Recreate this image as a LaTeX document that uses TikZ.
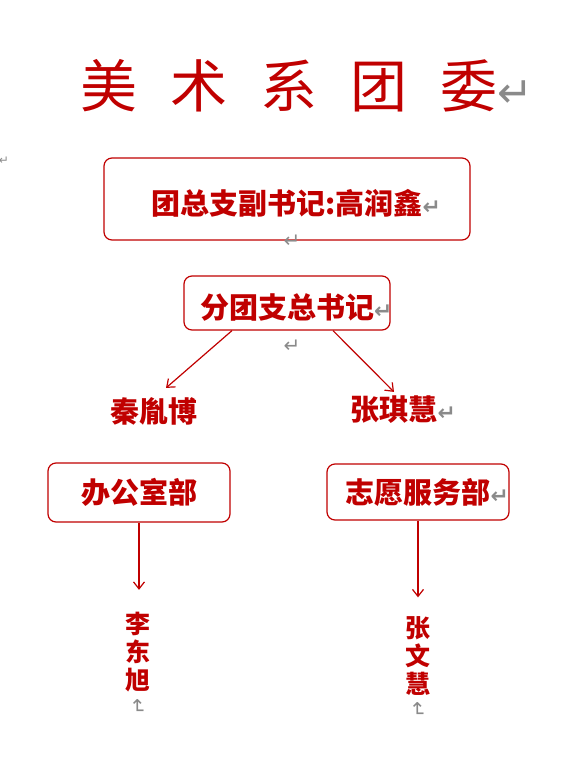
\documentclass[tikz,border=0pt]{standalone}
\usepackage{fontspec}
\newfontfamily\cjk{Noto Sans CJK SC}
\newfontfamily\symfont{DejaVu Sans}
\usetikzlibrary{positioning,arrows.meta}
\definecolor{tuanred}{HTML}{C00000}
\definecolor{markgray}{HTML}{8A8A8A}
\newcommand{\retmark}{{\symfont\color{markgray}\scalebox{0.75}{↵}}}

\begin{document}
\begin{tikzpicture}[
    x=1pt, y=-1pt,
    box/.style={draw=tuanred, line width=1.2pt, rounded corners=8pt,
                text=tuanred, font=\cjk\bfseries\fontsize{29}{31}\selectfont},
    arr/.style={-{Straight Barb[length=7pt,width=11pt]}, line width=1.2pt, tuanred},
    person/.style={text=tuanred, inner sep=2pt, font=\cjk\bfseries\fontsize{29}{31}\selectfont},
    vperson/.style={text=tuanred, inner sep=2pt, align=center,
                  font=\cjk\bfseries\fontsize{25}{28}\selectfont},
    pmark/.style={text=markgray, inner sep=0pt, font=\symfont\fontsize{20}{20}\selectfont},
]
\useasboundingbox (0,0) rectangle (582,769);

% Title
\node[text=tuanred, font=\cjk\fontsize{57}{60}\selectfont] (title) at (289,86)
    {美\hspace{33pt}术\hspace{33pt}系\hspace{33pt}团\hspace{33pt}委\rlap{\retmark}};
\node[pmark, font=\symfont\fontsize{12}{12}\selectfont] (lmark) at (4,161) {↵};

% Boxes
\node[box, minimum width=366pt, minimum height=82pt] (fu)  at (287,199)
    {\raisebox{-4.5pt}[\height][\depth]{团总支副书记:高润鑫\rlap{\retmark}}};
\node[pmark] (m1) at (292,241) {↵};
\node[box, minimum width=206pt, minimum height=54pt] (fen) at (287,303)
    {\raisebox{-4.5pt}[\height][\depth]{分团支总书记\rlap{\retmark}}};
\node[pmark] (m2) at (292,346) {↵};

% Names under the secretary
\node[person] (qin)   at (154,411) {秦胤博};
\node[person] (zhang) at (394,410) {张琪慧\rlap{\retmark}};

\draw[arr] ([xshift=-55pt]fen.south) -- ([xshift=12pt,yshift=7pt]qin.north);
\draw[arr] ([xshift=46pt]fen.south)  -- ([yshift=2pt]zhang.north);

% Departments
\node[box, minimum width=182pt, minimum height=59pt] (ban) at (139,492.5) {办公室部};
\node[box, minimum width=182pt, minimum height=56pt] (zhi) at (418,492)
    {志愿服务部\rlap{\retmark}};

\node[vperson] (li)  at (138,652) {李\\东\\旭};
\node[vperson] (wen) at (418,656) {张\\文\\慧};
\node[pmark, rotate=-90, below=4pt of li, anchor=west]  (m3) {↵};
\node[pmark, rotate=-90, below=4pt of wen, anchor=west] (m4) {↵};

\draw[arr, shorten >=20pt] (ban.south) -- (ban.south |- li.north);
\draw[arr, shorten >=17pt] (zhi.south) -- (zhi.south |- wen.north);

\end{tikzpicture}
\end{document}
